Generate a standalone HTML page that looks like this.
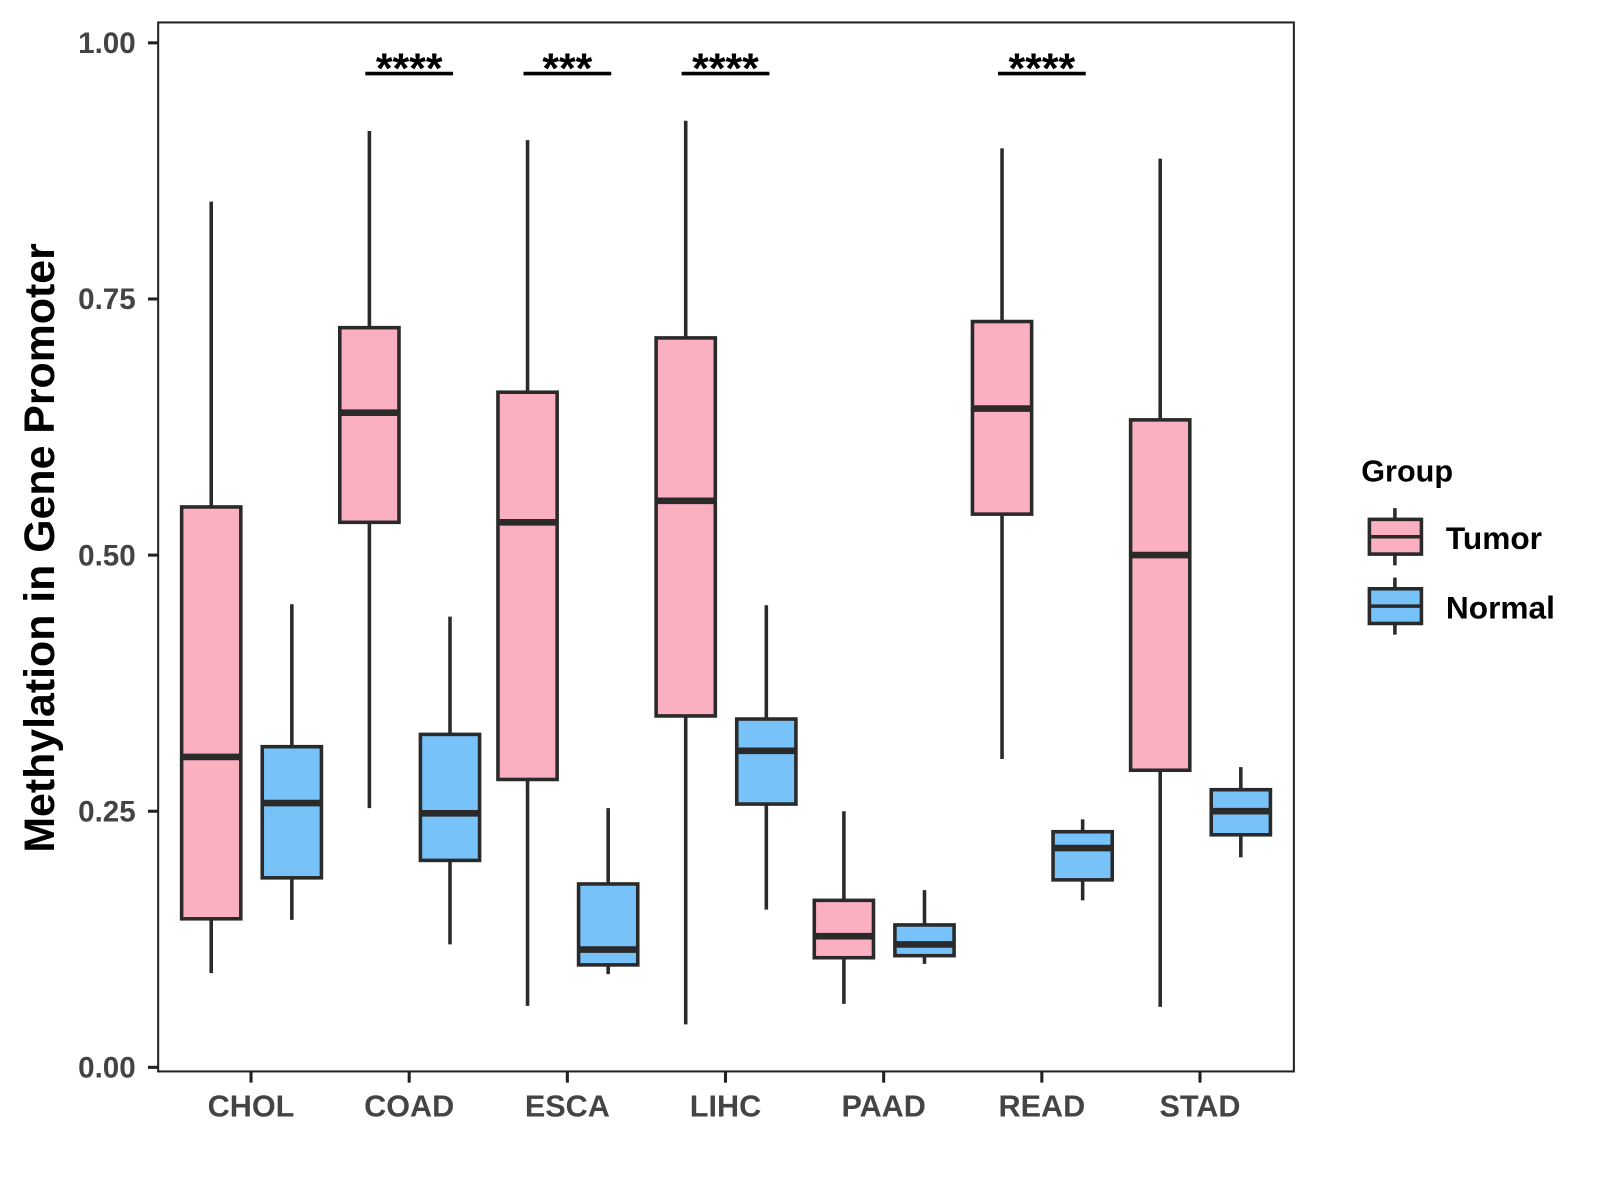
<!DOCTYPE html>
<html><head><meta charset="utf-8"><style>
html,body{margin:0;padding:0;background:#fff;}
svg{display:block;font-family:"Liberation Sans",sans-serif;}
</style></head><body>
<svg id="chart" width="1600" height="1200" viewBox="0 0 1568 1176">
<rect x="155" y="22" width="1113" height="1028" fill="#fff" stroke="#222" stroke-width="2"/>
<g id="yaxis"></g>
<g id="xaxis"></g>
<g id="boxes"></g>
<g id="sig"></g>
<text transform="translate(53,537) rotate(-90)" text-anchor="middle" font-size="42" font-weight="bold" fill="#000">Methylation in Gene Promoter</text>
<g>
<text x="1334" y="472" font-size="30" font-weight="bold">Group</text>
<g>
<line x1="1367" y1="498" x2="1367" y2="554" stroke="#2a2a2a" stroke-width="3.5"/>
<rect x="1342" y="509" width="51" height="34" fill="#FBB0C1" stroke="#2a2a2a" stroke-width="3.5"/>
<line x1="1342" y1="526" x2="1393" y2="526" stroke="#2a2a2a" stroke-width="3.5"/>
<text x="1417" y="538" font-size="31" font-weight="bold">Tumor</text>
</g>
<g>
<line x1="1367" y1="566" x2="1367" y2="622" stroke="#2a2a2a" stroke-width="3.5"/>
<rect x="1342" y="577" width="51" height="34" fill="#77C2F8" stroke="#2a2a2a" stroke-width="3.5"/>
<line x1="1342" y1="594" x2="1393" y2="594" stroke="#2a2a2a" stroke-width="3.5"/>
<text x="1417" y="606" font-size="31" font-weight="bold">Normal</text>
</g>
</g>
</svg>
<script>
const categories = ["CHOL","COAD","ESCA","LIHC","PAAD","READ","STAD"];
// [min, q1, median, q3, max]
const tumorStats = [
 [0.092,0.145,0.303,0.547,0.845],
 [0.253,0.532,0.639,0.722,0.914],
 [0.060,0.281,0.532,0.659,0.905],
 [0.042,0.343,0.553,0.712,0.924],
 [0.062,0.107,0.128,0.163,0.250],
 [0.301,0.540,0.643,0.728,0.897],
 [0.059,0.290,0.500,0.632,0.887]
];
const normalStats = [
 [0.144,0.185,0.258,0.313,0.452],
 [0.120,0.202,0.248,0.325,0.440],
 [0.091,0.100,0.115,0.179,0.253],
 [0.154,0.257,0.309,0.340,0.451],
 [0.101,0.109,0.120,0.139,0.173],
 [0.163,0.183,0.214,0.230,0.242],
 [0.205,0.227,0.250,0.271,0.293]
];
const yTicks = [0, 0.25, 0.5, 0.75, 1.0];
const yTickLabels = ["0.00","0.25","0.50","0.75","1.00"];
const sigCategories = ["COAD","ESCA","LIHC","READ"];
const sigLabels = ["****","***","****","****"];
const sigLevel = 0.97;

const NS = "http://www.w3.org/2000/svg";
function y(v){ return 1046 - v*1004; }
function x(i){ return 246 + i*155; }
function mk(tag, attrs, parent){
  const e = document.createElementNS(NS, tag);
  for (const k in attrs) e.setAttribute(k, attrs[k]);
  parent.appendChild(e); return e;
}
const ya = document.getElementById('yaxis');
yTicks.forEach((t,i)=>{
  const l = mk('line',{x1:145,x2:155,y1:y(t),y2:y(t),stroke:'#222','stroke-width':3},ya);
  
  
  const tx = mk('text',{x:133,y:y(t)+10,'text-anchor':'end','font-size':29,'font-weight':'bold',fill:'#444'},ya);
  tx.textContent = yTickLabels[i];
  
  
});
const xa = document.getElementById('xaxis');
categories.forEach((c,i)=>{
  const l = mk('line',{x1:x(i),x2:x(i),y1:1050,y2:1061,stroke:'#222','stroke-width':3},xa);
  
  
  const tx = mk('text',{x:x(i),y:1094,'text-anchor':'middle','font-size':30,'font-weight':'bold',fill:'#444'},xa);
  tx.textContent = c;
  
  
});
const bx = document.getElementById('boxes');
function drawBox(cx, s, fill, name){
  const g = mk('g',{},bx);
  
  
  const w = 58;
  mk('line',{x1:cx,x2:cx,y1:y(s[4]),y2:y(s[0]),stroke:'#2a2a2a','stroke-width':3.5},g);
  mk('rect',{x:cx-w/2,y:y(s[3]),width:w,height:y(s[1])-y(s[3]),fill:fill,stroke:'#2a2a2a','stroke-width':3.5},g);
  mk('line',{x1:cx-w/2,x2:cx+w/2,y1:y(s[2]),y2:y(s[2]),stroke:'#2a2a2a','stroke-width':6.5},g);
}
categories.forEach((c,i)=>{
  drawBox(x(i)-39, tumorStats[i], '#FBB0C1', 'box-tumor-'+c.toLowerCase());
  drawBox(x(i)+40, normalStats[i], '#77C2F8', 'box-normal-'+c.toLowerCase());
});
const sg = document.getElementById('sig');
sigCategories.forEach((c,k)=>{
  const i = categories.indexOf(c);
  const l = mk('line',{x1:x(i)-43,x2:x(i)+43,y1:y(sigLevel),y2:y(sigLevel),stroke:'#000','stroke-width':3.5},sg);
  
  
  const t = mk('text',{x:x(i),y:y(sigLevel)+9,'text-anchor':'middle','font-size':42,'font-weight':'bold',fill:'#000'},sg);
  t.textContent = sigLabels[k];
  
  
});
</script>
</body></html>
